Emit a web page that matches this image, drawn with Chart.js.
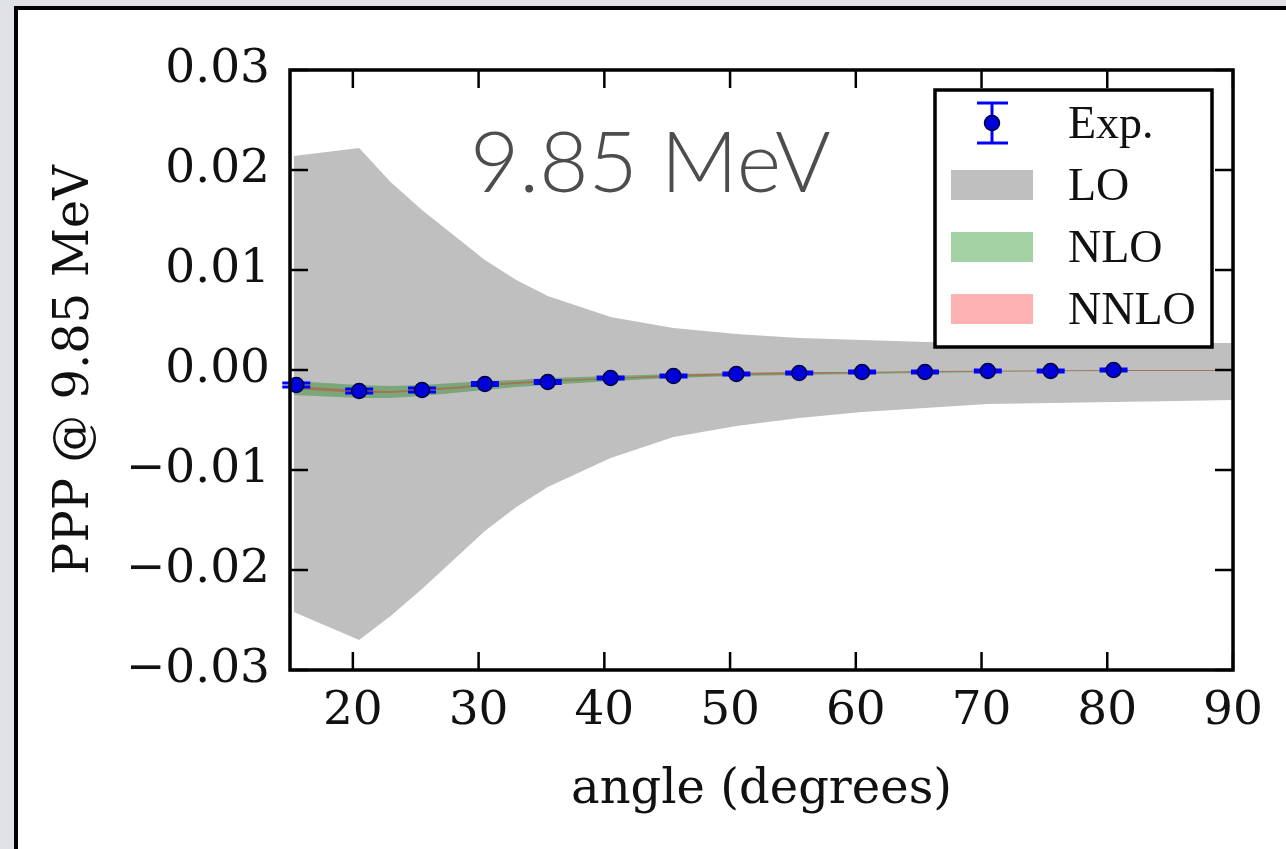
<!DOCTYPE html>
<html>
<head>
<meta charset="utf-8">
<script src="https://cdn.jsdelivr.net/npm/chart.js@4.4.1/dist/chart.umd.min.js"></script>
<style>
  html, body { margin: 0; padding: 0; background: #dfe3e8; overflow: hidden; }
  #sheet { position: absolute; left: 14px; top: 6px; width: 1400px; height: 1000px;
           background: #ffffff; border-left: 4px solid #000; border-top: 4px solid #000; }
  #wrap { position: absolute; left: 0; top: 0; width: 1286px; height: 849px; }
</style>
</head>
<body>
<div id="sheet"></div>
<div id="wrap"><canvas id="c" width="1286" height="849"></canvas></div>
<script>
// Measured polarization observable at 9.85 MeV
const angles = [15.5, 20.5, 25.5, 30.5, 35.5, 40.5, 45.5, 50.5, 55.5, 60.5, 65.5, 70.5, 75.5, 80.5];
const ppp    = [-0.0015, -0.0021, -0.0020, -0.0014, -0.0012, -0.0008, -0.0006, -0.0004, -0.0003, -0.0002, -0.0002, -0.0001, -0.0001, 0.0000];
const pppErr = [0.0002, 0.0002, 0.0002, 0.00015, 0.00015, 0.0001, 0.0001, 0.0001, 0.0001, 0.0001, 0.0001, 0.0001, 0.0001, 0.0001];

// Theory uncertainty bands
const thAngles = [15.3, 20.5, 23, 25.5, 28, 30.5, 33, 35.5, 40.5, 45.5, 50.5, 55.5, 60.5, 65.5, 70.5, 75.5, 80.5, 85.5, 90];
const loLow    = [-0.0242, -0.0270, -0.0246, -0.0219, -0.0190, -0.0161, -0.0137, -0.0117, -0.0088, -0.0067, -0.0056, -0.0048, -0.0042, -0.0038, -0.0034, -0.0033, -0.0032, -0.0031, -0.0030];
const loHigh   = [0.0214, 0.0222, 0.0188, 0.0160, 0.0135, 0.0110, 0.0090, 0.0074, 0.0053, 0.0042, 0.0036, 0.0032, 0.0030, 0.0028, 0.0027, 0.0027, 0.0027, 0.0027, 0.0027];
const nloLow   = [-0.0025, -0.0028, -0.0028, -0.0026, -0.0023, -0.0020, -0.0017, -0.0015, -0.0011, -0.0008, -0.0006, -0.0005, -0.0004, -0.0003, -0.0002, -0.00015, -0.0001, -0.0001, -0.0001];
const nloHigh  = [-0.0011, -0.0015, -0.0016, -0.0015, -0.0013, -0.0011, -0.0010, -0.0008, -0.0006, -0.0004, -0.0003, -0.0002, -0.0002, -0.0001, -0.0001, -0.00005, 0.0, 0.0, 0.0];
const nnloLow  = [-0.0019, -0.0023, -0.0023, -0.0021, -0.0019, -0.0016, -0.0014, -0.0012, -0.0009, -0.0007, -0.0005, -0.0004, -0.0003, -0.0002, -0.00015, -0.0001, -0.0001, -0.0001, -0.0001];
const nnloHigh = [-0.0016, -0.0020, -0.0021, -0.0019, -0.0017, -0.0014, -0.0012, -0.0010, -0.0008, -0.0005, -0.0003, -0.0002, -0.0002, -0.0001, -0.00005, -0.00003, 0.0, 0.0, 0.0];

// Axis ticks and labels
const xTickValues = [20, 30, 40, 50, 60, 70, 80, 90];
const yTickValues = [-0.03, -0.02, -0.01, 0.0, 0.01, 0.02, 0.03];
const yTickLabels = ['\u22120.03', '\u22120.02', '\u22120.01', '0.00', '0.01', '0.02', '0.03'];
const legendLabels = ['Exp.', 'LO', 'NLO', 'NNLO'];
const energyLabel = '9.85 MeV';

const COL_LO = 'rgba(128,128,128,0.5)';
const COL_NLO = 'rgba(0,128,0,0.36)';
const COL_NNLO = 'rgba(255,0,0,0.3)';
const COL_EXP = '#0000d8';
const CLEAR = 'rgba(0,0,0,0)';

const pts = (xs, ys) => xs.map((x, i) => ({ x: x, y: ys[i] }));
const edge = (label, ys, order, fill, color) => ({
  label: label, data: pts(thAngles, ys), order: order,
  borderColor: CLEAR, borderWidth: 0, pointRadius: 0, tension: 0,
  fill: fill, backgroundColor: color || CLEAR
});

// Small error bars with caps, drawn underneath the markers
const errorBars = {
  id: 'errorBars',
  beforeDatasetDraw(chart, args) {
    if (args.index !== 0) return;
    const { ctx, scales: { x, y } } = chart;
    ctx.save();
    ctx.strokeStyle = '#0000ff';
    ctx.lineWidth = 3;
    angles.forEach((a, i) => {
      const px = x.getPixelForValue(a);
      const y1 = y.getPixelForValue(ppp[i] - pppErr[i]);
      const y2 = y.getPixelForValue(ppp[i] + pppErr[i]);
      ctx.beginPath();
      ctx.moveTo(px, y1); ctx.lineTo(px, y2);
      ctx.moveTo(px - 14, y1); ctx.lineTo(px + 14, y1);
      ctx.moveTo(px - 14, y2); ctx.lineTo(px + 14, y2);
      ctx.stroke();
    });
    ctx.restore();
  }
};

// Axes frame with inward ticks on all four sides, energy label and legend
const frame = {
  id: 'frame',
  afterDraw(chart) {
    const { ctx, chartArea: ca, scales: { x, y } } = chart;
    ctx.save();
    ctx.strokeStyle = '#000';
    ctx.lineWidth = 2.5;
    const tl = 18;
    ctx.beginPath();
    xTickValues.forEach(v => {
      const px = x.getPixelForValue(v);
      ctx.moveTo(px, ca.bottom); ctx.lineTo(px, ca.bottom - tl);
      ctx.moveTo(px, ca.top); ctx.lineTo(px, ca.top + tl);
    });
    yTickValues.forEach(v => {
      const py = y.getPixelForValue(v);
      ctx.moveTo(ca.left, py); ctx.lineTo(ca.left + tl, py);
      ctx.moveTo(ca.right, py); ctx.lineTo(ca.right - tl, py);
    });
    ctx.stroke();
    ctx.lineWidth = 3.5;
    ctx.strokeRect(ca.left, ca.top, ca.right - ca.left, ca.bottom - ca.top);

    // energy label
    ctx.fillStyle = '#4d4d4d';
    ctx.font = '300 85px Lato, "Open Sans", sans-serif';
    ctx.textBaseline = 'alphabetic';
    ctx.textAlign = 'left';
    ctx.fillText(energyLabel, 470, 192);

    // legend
    const bx = 935, by = 90, bw = 277, bh = 257;
    ctx.fillStyle = '#fff';
    ctx.fillRect(bx, by, bw, bh);
    ctx.lineWidth = 3.5;
    ctx.strokeStyle = '#000';
    ctx.strokeRect(bx, by, bw, bh);
    const rows = [123, 185, 247, 309];
    // Exp. symbol
    ctx.strokeStyle = '#0000ff';
    ctx.lineWidth = 3;
    ctx.beginPath();
    ctx.moveTo(992, rows[0] - 20); ctx.lineTo(992, rows[0] + 20);
    ctx.moveTo(977, rows[0] - 20); ctx.lineTo(1008, rows[0] - 20);
    ctx.moveTo(977, rows[0] + 20); ctx.lineTo(1008, rows[0] + 20);
    ctx.stroke();
    ctx.beginPath();
    ctx.arc(992, rows[0], 7.5, 0, Math.PI * 2);
    ctx.fillStyle = COL_EXP;
    ctx.fill();
    ctx.lineWidth = 1.5;
    ctx.strokeStyle = '#000040';
    ctx.stroke();
    // band patches
    [COL_LO, COL_NLO, COL_NNLO].forEach((c, i) => {
      ctx.fillStyle = c;
      ctx.fillRect(951, rows[i + 1] - 15, 82, 30);
    });
    ctx.fillStyle = '#111';
    ctx.font = '46px "Liberation Serif", serif';
    ctx.textBaseline = 'alphabetic';
    legendLabels.forEach((t, i) => ctx.fillText(t, 1068, rows[i] + 15));
    ctx.restore();
  }
};

new Chart(document.getElementById('c'), {
  type: 'line',
  data: {
    datasets: [
      { label: 'Exp.', data: pts(angles, ppp), order: 0, showLine: false,
        pointRadius: 7.5, pointBackgroundColor: COL_EXP, pointBorderColor: '#000040', pointBorderWidth: 1.5 },
      edge('NNLO low', nnloLow, 1, false),
      edge('NNLO', nnloHigh, 1, { target: 1 }, COL_NNLO),
      edge('NLO low', nloLow, 2, false),
      edge('NLO', nloHigh, 2, { target: 3 }, COL_NLO),
      edge('LO low', loLow, 3, false),
      edge('LO', loHigh, 3, { target: 5 }, COL_LO)
    ]
  },
  options: {
    responsive: false,
    animation: false,
    devicePixelRatio: 1,
    layout: { autoPadding: false, padding: { left: 0, top: 70, right: 53, bottom: 0 } },
    plugins: { legend: { display: false }, tooltip: { enabled: false }, title: { display: false } },
    scales: {
      x: {
        type: 'linear', min: 15, max: 90,
        afterFit(s) { s.height = 179; },
        afterBuildTicks(s) { s.ticks = xTickValues.map(v => ({ value: v })); },
        grid: { display: false, drawTicks: false },
        border: { display: false },
        ticks: { color: '#111', padding: 14, font: { family: '"DejaVu Serif", serif', size: 47 }, maxRotation: 0, autoSkip: false,
                 callback: (v) => String(v) },
        title: { display: true, text: 'angle (degrees)', color: '#111',
                 font: { family: '"DejaVu Serif", serif', size: 48 }, padding: { top: 0, bottom: 30 } }
      },
      y: {
        type: 'linear', min: -0.03, max: 0.03,
        afterFit(s) { s.width = 290; },
        afterBuildTicks(s) { s.ticks = yTickValues.map(v => ({ value: v })); },
        grid: { display: false, drawTicks: false },
        border: { display: false },
        ticks: { color: '#111', padding: 20, font: { family: '"DejaVu Serif", serif', size: 47 }, autoSkip: false,
                 callback: (v) => yTickLabels[yTickValues.findIndex(t => Math.abs(t - v) < 1e-9)] },
        title: { display: true, text: 'PPP @ 9.85 MeV', color: '#111',
                 font: { family: '"DejaVu Serif", serif', size: 48 }, padding: { top: 47, bottom: 0 } }
      }
    }
  },
  plugins: [errorBars, frame]
});
</script>
</body>
</html>
